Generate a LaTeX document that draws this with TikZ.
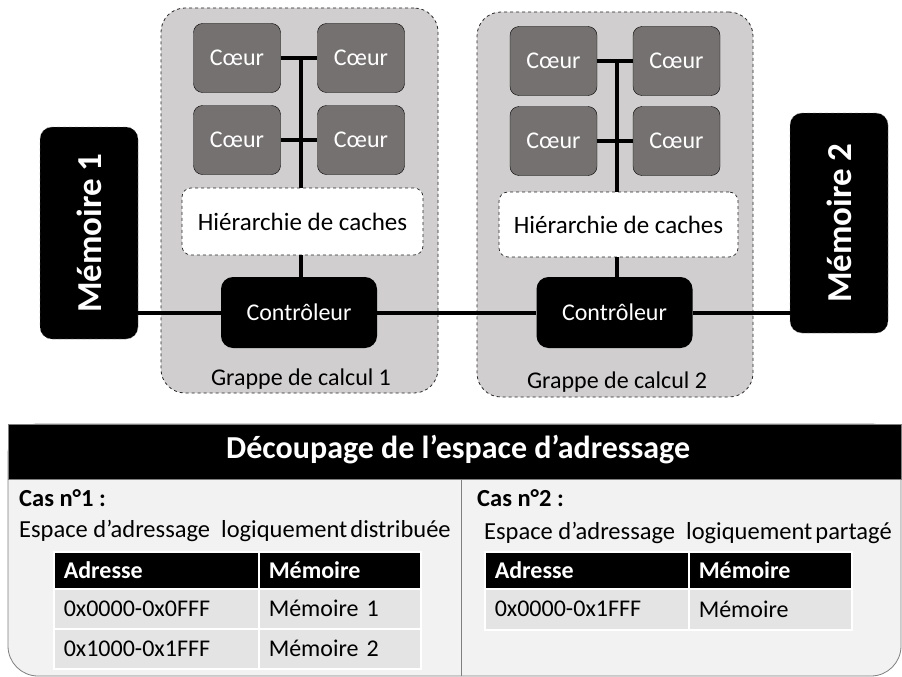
\documentclass[tikz,border=0pt]{standalone}
\usepackage{fontspec}
\setmainfont{Carlito}
\definecolor{clusterbg}{HTML}{D0CECE}
\definecolor{coregray}{HTML}{767171}
\definecolor{panelbg}{HTML}{F2F2F2}
\definecolor{rowbg}{HTML}{E4E4E4}
\definecolor{edgegray}{HTML}{7F7F7F}
\begin{document}
\begin{tikzpicture}[x=1pt,y=-1pt,
  grappe/.style={draw=black!85, dashed, fill=clusterbg, rounded corners=24, line width=0.8},
  coeur/.style={draw=black, fill=coregray, rounded corners=9, minimum width=87, minimum height=69,
    inner sep=0, text=white, font=\fontsize{24}{28}\selectfont},
  cache/.style={draw=black!85, dashed, fill=white, rounded corners=9, line width=0.7,
    font=\fontsize{25}{30}\selectfont},
  ctl/.style={fill=black, rounded corners=12, minimum width=156, minimum height=71,
    text=white, font=\fontsize{24}{28}\selectfont},
  mem/.style={fill=black, draw=edgegray, dashed, rounded corners=12, minimum width=98},
  memtxt/.style={rotate=90, text=white, font=\fontsize{35}{40}\selectfont\bfseries},
  bus/.style={line width=4},
  lbl/.style={font=\fontsize{24}{28}\selectfont},
  body/.style={font=\fontsize{24.5}{28}\selectfont, anchor=base west, inner sep=0},
  bodyb/.style={body, font=\fontsize{24.5}{28}\selectfont\bfseries},
  cell/.style={anchor=north west, fill=rowbg, draw=white, line width=1.5, inner xsep=10,
    inner ysep=0, align=left, font=\fontsize{24}{28}\selectfont},
  hcell/.style={cell, fill=black, text=white, font=\fontsize{24}{28}\selectfont\bfseries},
]
\useasboundingbox (0,0) rectangle (902,677);

% ---------- compute clusters ----------
\node[grappe, minimum width=277, minimum height=385] (g1) at (299.5,200.5) {};
\node[grappe, minimum width=276, minimum height=385] (g2) at (615,204.5) {};

% cluster 1
\node[coeur] (c1tl) at (237,58) {Cœur};
\node[coeur] (c1tr) at (361,58) {Cœur};
\node[coeur] (c1bl) at (237,140) {Cœur};
\node[coeur] (c1br) at (361,140) {Cœur};
\node[cache, minimum width=241, minimum height=67] (cache1) at (302.5,221.5) {Hiérarchie de caches};
\node[ctl] (ctl1) at (299,312.5) {Contrôleur};
\node[lbl] (lbl1) at (301,379) {Grappe de calcul 1};
\coordinate (b1) at (301,58);

% cluster 2
\node[coeur] (c2tl) at (553.5,61) {Cœur};
\node[coeur] (c2tr) at (676.5,61) {Cœur};
\node[coeur] (c2bl) at (553.5,141) {Cœur};
\node[coeur] (c2br) at (676.5,141) {Cœur};
\node[cache, minimum width=239, minimum height=65] (cache2) at (618.5,224.5) {Hiérarchie de caches};
\node[ctl] (ctl2) at (614.5,312.5) {Contrôleur};
\node[lbl] (lbl2) at (617,382) {Grappe de calcul 2};
\coordinate (b2) at (617,61);

% memories
\node[mem, minimum height=212] (mem1) at (89,233) {};
\node[memtxt] (mem1t) at (mem1.center) {Mémoire 1};
\node[mem, minimum height=220] (mem2) at (839,223) {};
\node[memtxt] (mem2t) at (mem2.center) {Mémoire 2};

% ---------- interconnect ----------
\draw[bus] (c1tl) -- (c1tr);
\draw[bus] (c1bl) -- (c1br);
\draw[bus] (b1) -- (b1 |- cache1.north);
\draw[bus] (cache1.south -| b1) -- (ctl1.north -| b1);
\draw[bus] (c2tl) -- (c2tr);
\draw[bus] (c2bl) -- (c2br);
\draw[bus] (b2) -- (b2 |- cache2.north);
\draw[bus] (cache2.south -| b2) -- (ctl2.north -| b2);
\draw[bus] (ctl1.west -| mem1.east) -- (ctl1.west);
\draw[bus] (ctl1) -- (ctl2);
\draw[bus] (ctl2.east) -- (ctl2.east -| mem2.west);

% ---------- address space panel ----------
\node[draw=edgegray, fill=panelbg, rounded corners=30, line width=0.8,
  minimum width=893, minimum height=252] (panel) at (454.5,550) {};
\node[draw=edgegray, fill=black, line width=0.8, minimum width=893, minimum height=55] (hdr) at (454.5,451.5) {};
\node[anchor=base west, inner sep=0, text=white, font=\fontsize{32}{36}\selectfont\bfseries] (title)
  at (226,458) {Découpage de l’espace d’adressage};
\coordinate (divtop) at (461,479);
\draw[edgegray, line width=0.8] (divtop) -- (divtop |- panel.south);

% case 1
\node[bodyb] (cas1) at (19,506) {Cas n°1 :};
\node[body] (esp1) at (19,537) {Espace d’adressage\ \ logiquement\hspace{3pt}distribuée};
\node[hcell, minimum width=205, minimum height=37, text width=185] (t1h1) at (53,551) {Adresse};
\node[hcell, minimum width=162, minimum height=37, text width=142] (t1h2) at (258,551) {Mémoire};
\node[cell, minimum width=205, minimum height=40, text width=185] (t1a1) at (53,588) {0x0000-0x0FFF};
\node[cell, minimum width=162, minimum height=40, text width=142] (t1b1) at (258,588) {Mémoire 1};
\node[cell, minimum width=205, minimum height=40, text width=185] (t1a2) at (53,628) {0x1000-0x1FFF};
\node[cell, minimum width=162, minimum height=40, text width=142] (t1b2) at (258,628) {Mémoire 2};

% case 2
\node[bodyb] (cas2) at (477,506) {Cas n°2 :};
\node[body] (esp2) at (484,539) {Espace d’adressage\ \ logiquement\hspace{3pt}partagé};
\node[hcell, minimum width=204, minimum height=37, text width=184] (t2h1) at (484,551) {Adresse};
\node[hcell, minimum width=163, minimum height=37, text width=143] (t2h2) at (688,551) {Mémoire};
\node[cell, minimum width=204, minimum height=41, text width=184] (t2a1) at (484,588) {0x0000-0x1FFF};
\node[cell, minimum width=163, minimum height=41, text width=143] (t2b1) at (688,588) {Mémoire};
\end{tikzpicture}
\end{document}
